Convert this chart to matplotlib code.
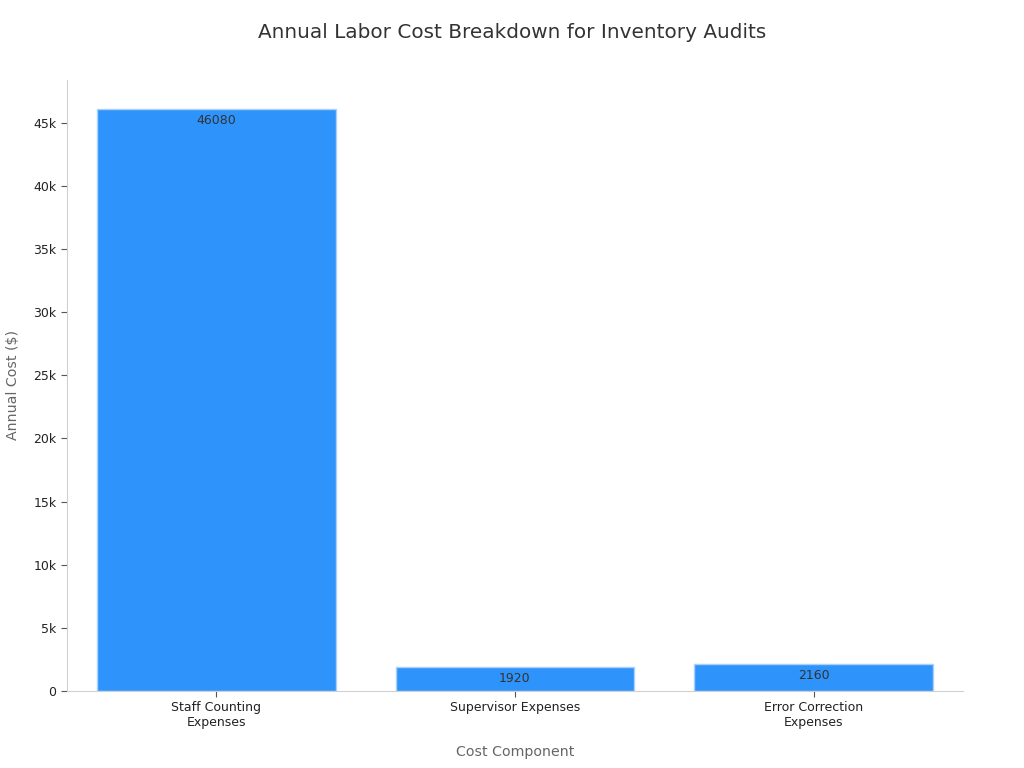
import numpy as np
import matplotlib.pyplot as plt

categories = ["Staff Counting\nExpenses", "Supervisor Expenses", "Error Correction\nExpenses"]
costs = [46080, 1920, 2160]

fig = plt.figure(figsize=(10.24, 7.68), dpi=100)
ax = fig.add_axes([0.0654, 0.1003, 0.8750, 0.7955])

x = np.arange(len(categories))
bars = ax.bar(x, costs, width=0.8, color='#2E93FA', edgecolor='#a9d1fb', linewidth=1)

for b, v in zip(bars, costs):
    ax.annotate(str(v), (b.get_x() + b.get_width() / 2, v), xytext=(0, -8.5),
                textcoords='offset points', ha='center', va='center',
                fontsize=9, color='#333333')

ax.set_xlim(-0.5, 2.5)
ax.set_ylim(0, max(costs) * 1.05)
ax.set_xticks(x)
ax.set_xticklabels(categories, fontsize=9, color='#222222')
yt = np.arange(0, 45001, 5000)
ax.set_yticks(yt)
ax.set_yticklabels(['0'] + ['%dk' % (t // 1000) for t in yt[1:]], fontsize=9, color='#222222')

for side in ['top', 'right']:
    ax.spines[side].set_visible(False)
for side in ['left', 'bottom']:
    ax.spines[side].set_color('#d0d0d0')
ax.tick_params(axis='both', colors='#555555', length=4, labelcolor='#222222')

ax.set_xlabel('Cost Component', fontsize=10.2, color='#666666', labelpad=11)
ax.set_ylabel('Annual Cost ($)', fontsize=10.2, color='#666666', labelpad=10)
fig.suptitle('Annual Labor Cost Breakdown for Inventory Audits', fontsize=14.4,
             color='#333333', y=0.97)

fig.savefig('out.png', dpi=100)
